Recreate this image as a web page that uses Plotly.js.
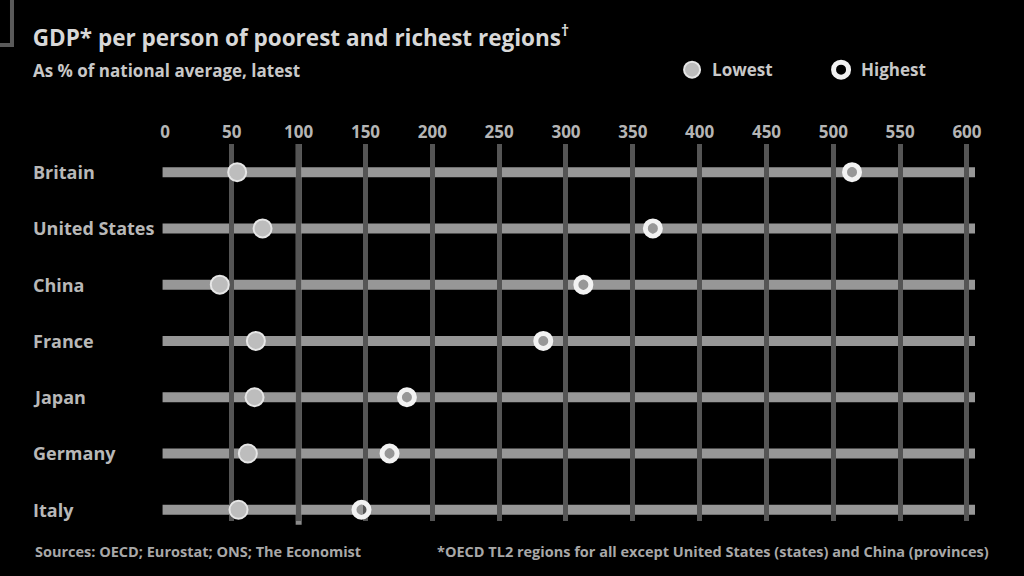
<!DOCTYPE html>
<html>
<head>
<meta charset="utf-8">
<script src="https://cdn.plot.ly/plotly-3.0.1.min.js"></script>
<style>html,body{margin:0;padding:0;background:#000;}#chart{width:1024px;height:576px;}</style>
</head>
<body>
<div id="chart"></div>
<script>
const countries = ["Britain", "United States", "China", "France", "Japan", "Germany", "Italy"];
const lowest = [54, 73, 41, 68, 67, 62, 55];
const highest = [514, 365, 313, 283, 181, 168, 147];
const tickVals = [0, 50, 100, 150, 200, 250, 300, 350, 400, 450, 500, 550, 600];
const titleText = "GDP* per person of poorest and richest regions<sup>†</sup>";
const subtitleText = "As % of national average, latest";
const sourceText = "Sources: OECD; Eurostat; ONS; The Economist";
const footnoteText = "*OECD TL2 regions for all except United States (states) and China (provinces)";

const FONT = "'Open Sans', Roboto, sans-serif";

const traces = [
  {
    type: "scatter", mode: "markers", name: "Lowest",
    x: lowest, y: countries,
    marker: {symbol: "circle", size: 18, color: "#bdbdbd", line: {color: "#e6e6e6", width: 2}},
    cliponaxis: false
  },
  {
    type: "scatter", mode: "markers", name: "Highest",
    x: highest, y: countries,
    marker: {symbol: "circle-open", size: 15, color: "#f2f2f2", line: {color: "#f2f2f2", width: 5}},
    cliponaxis: false
  }
];

const shapes = countries.map(c => ({
  type: "line", xref: "paper", yref: "y", x0: -0.003, x1: 1, y0: c, y1: c,
  line: {color: "#979797", width: 10}, layer: "below"
}));
shapes.push({
  type: "line", xref: "x", yref: "paper", x0: 100, x1: 100, y0: -0.01, y1: 1.0,
  line: {color: "#8a8a8a", width: 6}, layer: "below"
});
shapes.push({
  type: "rect", xref: "paper", yref: "paper", x0: -0.225, x1: -0.1889, y0: 1.2626, y1: 1.42,
  line: {color: "#5a5a5a", width: 4}, fillcolor: "rgba(0,0,0,0)"
});

const annotations = countries.map(c => ({
  xref: "paper", yref: "y", x: -0.165, y: c, xanchor: "left", yanchor: "middle",
  text: c, showarrow: false, font: {family: FONT, size: 18, color: "#b8b8b8", weight: 700}
}));
annotations.push({
  xref: "paper", yref: "paper", x: -0.165, y: 1.195, xanchor: "left", yanchor: "middle",
  text: subtitleText, showarrow: false, font: {family: FONT, size: 17, color: "#c8c8c8", weight: 700}
});
annotations.push({
  xref: "paper", yref: "paper", x: -0.163, y: -0.08, xanchor: "left", yanchor: "middle",
  text: sourceText, showarrow: false, font: {family: FONT, size: 14.5, color: "#a8a8a8", weight: 700}
});
annotations.push({
  xref: "paper", yref: "paper", x: 1.02, y: -0.08, xanchor: "right", yanchor: "middle",
  text: footnoteText, showarrow: false, font: {family: FONT, size: 14.5, color: "#a8a8a8", weight: 700}
});

const layout = {
  width: 1024, height: 576,
  paper_bgcolor: "#000", plot_bgcolor: "#000",
  margin: {l: 165, r: 49, t: 144, b: 55, autoexpand: false},
  font: {family: FONT, color: "#c0c0c0"},
  title: {
    text: titleText, xref: "container", yref: "container", x: 0.032, xanchor: "left",
    y: 0.934, yanchor: "middle",
    font: {family: FONT, size: 22.5, color: "#d8d8d8", weight: 700}
  },
  xaxis: {
    side: "top", range: [0, 606], tickvals: tickVals, ticktext: tickVals.map(String),
    showgrid: true, gridcolor: "#555555", gridwidth: 5, zeroline: false, showline: false,
    ticks: "", ticklabelstandoff: 2, fixedrange: true,
    tickfont: {family: FONT, size: 17, color: "#b5b5b5", weight: 700}
  },
  yaxis: {
    type: "category", range: [6.2, -0.5], showticklabels: false, showgrid: false,
    zeroline: false, showline: false, ticks: "", fixedrange: true
  },
  showlegend: true,
  legend: {
    orientation: "h", x: 0.626, xanchor: "left", y: 1.196, yanchor: "middle",
    bgcolor: "rgba(0,0,0,0)", entrywidth: 104, entrywidthmode: "pixels", itemwidth: 30,
    font: {family: FONT, size: 17, color: "#c8c8c8", weight: 700}
  },
  shapes: shapes,
  annotations: annotations
};

Plotly.newPlot("chart", traces, layout, {displayModeBar: false, staticPlot: true});
</script>
</body>
</html>
